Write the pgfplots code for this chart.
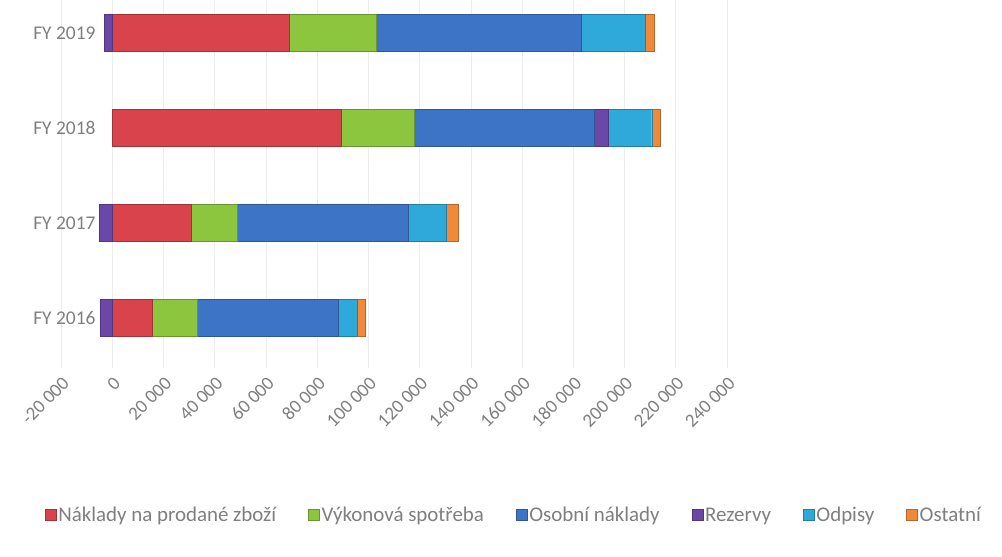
\documentclass[border=0pt]{standalone}
\usepackage{pgfplots}
\pgfplotsset{compat=1.18}
\usepackage{fontspec}
\setmainfont{Carlito}
\definecolor{cRed}{HTML}{D9434B}
\definecolor{cGreen}{HTML}{8CC63E}
\definecolor{cBlue}{HTML}{3D74C6}
\definecolor{cPurple}{HTML}{6B48A8}
\definecolor{cCyan}{HTML}{2EA9DA}
\definecolor{cOrange}{HTML}{F08A3A}
\definecolor{txt}{HTML}{7F7F7F}
\definecolor{gridc}{HTML}{EDEDED}
\begin{document}
\begin{tikzpicture}[x=1bp,y=1bp]
\path[use as bounding box] (0,0) rectangle (1002,557);
\pgfplotsset{
  base/.style={
    at={(61bp,189bp)}, anchor=south west,
    width=666bp, height=368bp, scale only axis,
    xmin=-20000, xmax=240000, ymin=-0.526, ymax=3.347,
    bar width=0.39,
  }
}
\begin{axis}[base, xbar stacked,
  axis line style={draw=none}, tick style={draw=none},
  xmajorgrids, major grid style={gridc, line width=0.6pt},
  scaled x ticks=false,
  xtick={-20000,0,20000,40000,60000,80000,100000,120000,140000,160000,180000,200000,220000,240000},
  xticklabels={-20 000,0,20 000,40 000,60 000,80 000,100 000,120 000,140 000,160 000,180 000,200 000,220 000,240 000},
  xticklabel style={rotate=45, anchor=east, font=\fontsize{19}{22}\selectfont, text=txt, yshift=-12bp, xshift=-3bp, inner sep=2bp},
  ytick={0,1,2,3}, yticklabels={FY 2016,FY 2017,FY 2018,FY 2019},
  yticklabel style={font=\fontsize{19.5}{22}\selectfont, text=txt, xshift=38bp},
  legend style={at={(0.68,-0.40)}, anchor=center, draw=none, legend columns=6,
    font=\fontsize{21}{24}\selectfont, text=txt, inner sep=0pt,
    /tikz/every even column/.append style={column sep=30bp}},
  legend image code/.code={\fill[#1] (0bp,-5.5bp) rectangle (11bp,5.5bp);},
]
\addplot[fill=cRed, draw=cRed!75!black, line width=0.4pt] coordinates {(15600,0) (30900,1) (89500,2) (69100,3)};
\addplot[fill=cGreen, draw=cGreen!75!black, line width=0.4pt] coordinates {(17600,0) (18000,1) (28500,2) (34000,3)};
\addplot[fill=cBlue, draw=cBlue!75!black, line width=0.4pt] coordinates {(55100,0) (66800,1) (70300,2) (80100,3)};
\addplot[fill=cPurple, draw=cPurple!75!black, line width=0.4pt] coordinates {(0,0) (0,1) (5500,2) (0,3)};
\addplot[fill=cCyan, draw=cCyan!75!black, line width=0.4pt] coordinates {(7400,0) (14800,1) (16800,2) (25000,3)};
\addplot[fill=cOrange, draw=cOrange!75!black, line width=0.4pt] coordinates {(3100,0) (4700,1) (3500,2) (3500,3)};
\legend{Náklady na prodané zboží, Výkonová spotřeba, Osobní náklady, Rezervy, Odpisy, Ostatní}
\end{axis}
\begin{axis}[base, xbar, hide axis]
\addplot[fill=cPurple, draw=cPurple!75!black, line width=0.4pt] coordinates {(-4700,0) (-5000,1) (-3000,3)};
\end{axis}
\end{tikzpicture}
\end{document}
